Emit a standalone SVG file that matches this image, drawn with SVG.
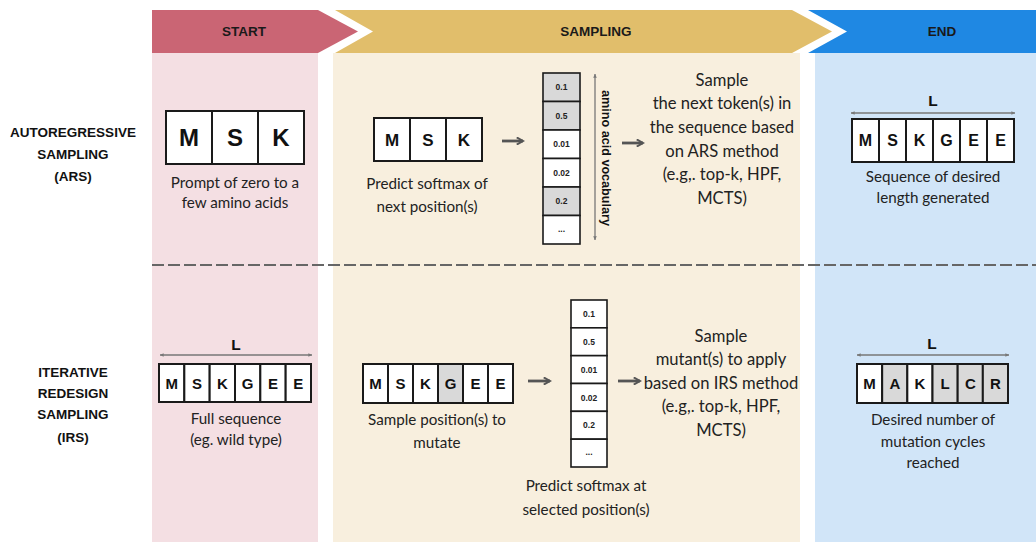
<svg xmlns="http://www.w3.org/2000/svg" width="1036" height="542" viewBox="0 0 1036 542">
  <style>
    .hdr { font-family: "Liberation Sans", Arial, sans-serif; font-weight: bold; font-size: 13.5px; fill: #1a1a1a; text-anchor: middle; }
    .row { font-family: "Liberation Sans", Arial, sans-serif; font-weight: bold; font-size: 13.5px; fill: #111; text-anchor: middle; }
    .cap { font-family: Lato, "Open Sans", sans-serif; font-size: 15.2px; fill: #222; text-anchor: middle; }
    .big { font-family: Lato, "Open Sans", sans-serif; font-size: 16.6px; fill: #222; text-anchor: middle; }
    .cell { fill: #fff; stroke: #1a1a1a; stroke-width: 2; }
    .cell.g { fill: #d9d9d9; }
    .vcell { fill: #fff; stroke: #1a1a1a; stroke-width: 1.6; }
    .vcell.g { fill: #d9d9d9; }
    .aa { font-family: "Liberation Sans", Arial, sans-serif; font-weight: bold; fill: #111; text-anchor: middle; }
    .num { font-family: "Liberation Sans", Arial, sans-serif; font-weight: bold; font-size: 8.5px; fill: #222; text-anchor: middle; }
    .flow { stroke: #555; stroke-width: 2.8; fill: none; marker-end: url(#head); }
    .span { stroke: #777; stroke-width: 1.3; fill: none; marker-start: url(#tip); marker-end: url(#tip); }
    .L { font-family: "Liberation Sans", Arial, sans-serif; font-weight: bold; font-size: 15.5px; fill: #111; text-anchor: middle; }
  </style>
  <defs>
    <marker id="head" viewBox="0 0 10 10" refX="8" refY="5" markerWidth="3.2" markerHeight="3.2" orient="auto">
      <path d="M1,1 L8,5 L1,9" fill="none" stroke="#555" stroke-width="2.2"/>
    </marker>
    <marker id="tip" viewBox="0 0 10 10" refX="9" refY="5" markerWidth="4" markerHeight="4" orient="auto-start-reverse">
      <path d="M2,1.5 L9,5 L2,8.5 Z" fill="#777"/>
    </marker>
  </defs>

  <!-- phase columns -->
  <g id="columns">
    <rect x="152" y="53" width="166" height="489" fill="#f4dfe3"/>
    <rect x="333" y="53" width="467" height="489" fill="#f8efde"/>
    <rect x="815" y="53" width="221" height="489" fill="#d1e5f8"/>
  </g>

  <!-- phase header chevrons -->
  <g id="header-start">
    <polygon points="152,10 318,10 358,31.5 318,53 152,53" fill="#ca6574"/>
    <text class="hdr" x="244" y="36">START</text>
  </g>
  <g id="header-sampling">
    <polygon points="335,10 792,10 832,31.5 792,53 335,53 373,31.5" fill="#e1be6b"/>
    <text class="hdr" x="596" y="36">SAMPLING</text>
  </g>
  <g id="header-end">
    <polygon points="808,10 1036,10 1036,53 808,53 847,31.5" fill="#1f88e3"/>
    <text class="hdr" x="942" y="36">END</text>
  </g>

  <!-- row divider -->
  <line x1="152" y1="265" x2="1036" y2="265" stroke="#666" stroke-width="2" stroke-dasharray="12 4"/>

  <!-- row labels -->
  <g id="label-ars">
    <text class="row" x="73" y="137">AUTOREGRESSIVE</text>
    <text class="row" x="73" y="159">SAMPLING</text>
    <text class="row" x="73" y="181">(ARS)</text>
  </g>
  <g id="label-irs">
    <text class="row" x="73" y="377">ITERATIVE</text>
    <text class="row" x="73" y="398">REDESIGN</text>
    <text class="row" x="73" y="419">SAMPLING</text>
    <text class="row" x="73" y="442">(IRS)</text>
  </g>

  <!-- ARS: prompt -->
  <g id="ars-prompt">
    <rect class="cell" x="166" y="111" width="46" height="53"/>
    <rect class="cell" x="212" y="111" width="46" height="53"/>
    <rect class="cell" x="258" y="111" width="46" height="53"/>
    <text class="aa" font-size="24" x="189" y="146">M</text>
    <text class="aa" font-size="24" x="235" y="146">S</text>
    <text class="aa" font-size="24" x="281" y="146">K</text>
    <text class="cap" x="235" y="188">Prompt of zero to a</text>
    <text class="cap" x="235" y="208">few amino acids</text>
  </g>

  <!-- ARS: model input -->
  <g id="ars-input">
    <rect class="cell" x="374" y="118" width="36" height="43"/>
    <rect class="cell" x="410" y="118" width="36" height="43"/>
    <rect class="cell" x="446" y="118" width="36" height="43"/>
    <text class="aa" font-size="17" x="392" y="146">M</text>
    <text class="aa" font-size="17" x="428" y="146">S</text>
    <text class="aa" font-size="17" x="464" y="146">K</text>
    <text class="cap" x="427" y="189">Predict softmax of</text>
    <text class="cap" x="427" y="212">next position(s)</text>
  </g>

  <!-- ARS: softmax over vocabulary -->
  <g id="ars-softmax">
    <rect class="vcell g" x="543" y="73" width="37" height="28.5"/>
    <rect class="vcell g" x="543" y="101.5" width="37" height="28.5"/>
    <rect class="vcell" x="543" y="130" width="37" height="28.5"/>
    <rect class="vcell" x="543" y="158.5" width="37" height="28.5"/>
    <rect class="vcell g" x="543" y="187" width="37" height="28.5"/>
    <rect class="vcell" x="543" y="215.5" width="37" height="28.5"/>
    <text class="num" x="561.5" y="90">0.1</text>
    <text class="num" x="561.5" y="118.5">0.5</text>
    <text class="num" x="561.5" y="147">0.01</text>
    <text class="num" x="561.5" y="175.5">0.02</text>
    <text class="num" x="561.5" y="204">0.2</text>
    <text class="num" x="561.5" y="232">...</text>
    <line class="span" x1="595" y1="74" x2="595" y2="240" stroke="#555"/>
    <text class="aa" font-size="12.6" transform="translate(602,158) rotate(90)" x="0" y="0">amino acid vocabulary</text>
  </g>

  <!-- ARS: sampling step -->
  <g id="ars-sample">
    <text class="big" x="722" y="86">Sample</text>
    <text class="big" x="722" y="109">the next token(s) in</text>
    <text class="big" x="722" y="133">the sequence based</text>
    <text class="big" x="722" y="157">on ARS method</text>
    <text class="big" x="722" y="180">(e.g,. top-k, HPF,</text>
    <text class="big" x="722" y="204">MCTS)</text>
  </g>

  <!-- ARS: generated sequence -->
  <g id="ars-result">
    <text class="L" x="933" y="106">L</text>
    <line class="span" x1="851" y1="113" x2="1015" y2="113"/>
    <rect class="cell" x="852" y="119" width="27" height="43"/>
    <rect class="cell" x="879" y="119" width="27" height="43"/>
    <rect class="cell" x="906" y="119" width="27" height="43"/>
    <rect class="cell" x="933" y="119" width="27" height="43"/>
    <rect class="cell" x="960" y="119" width="27" height="43"/>
    <rect class="cell" x="987" y="119" width="27" height="43"/>
    <text class="aa" font-size="16" x="865.5" y="146">M</text>
    <text class="aa" font-size="16" x="892.5" y="146">S</text>
    <text class="aa" font-size="16" x="919.5" y="146">K</text>
    <text class="aa" font-size="16" x="946.5" y="146">G</text>
    <text class="aa" font-size="16" x="973.5" y="146">E</text>
    <text class="aa" font-size="16" x="1000.5" y="146">E</text>
    <text class="cap" x="933" y="182">Sequence of desired</text>
    <text class="cap" x="933" y="203">length generated</text>
  </g>

  <!-- IRS: full sequence -->
  <g id="irs-sequence">
    <text class="L" x="236" y="350">L</text>
    <line class="span" x1="160" y1="355" x2="312" y2="355"/>
    <rect class="cell" x="159" y="364" width="25.33" height="38"/>
    <rect class="cell" x="184.33" y="364" width="25.33" height="38"/>
    <rect class="cell" x="209.67" y="364" width="25.33" height="38"/>
    <rect class="cell" x="235" y="364" width="25.33" height="38"/>
    <rect class="cell" x="260.33" y="364" width="25.33" height="38"/>
    <rect class="cell" x="285.67" y="364" width="25.33" height="38"/>
    <text class="aa" font-size="15" x="171.7" y="389">M</text>
    <text class="aa" font-size="15" x="197" y="389">S</text>
    <text class="aa" font-size="15" x="222.3" y="389">K</text>
    <text class="aa" font-size="15" x="247.7" y="389">G</text>
    <text class="aa" font-size="15" x="273" y="389">E</text>
    <text class="aa" font-size="15" x="298.3" y="389">E</text>
    <text class="cap" x="236" y="424">Full sequence</text>
    <text class="cap" x="236" y="445">(eg. wild type)</text>
  </g>

  <!-- IRS: position selection -->
  <g id="irs-position">
    <rect class="cell" x="363" y="364" width="25" height="39"/>
    <rect class="cell" x="388" y="364" width="25" height="39"/>
    <rect class="cell" x="413" y="364" width="25" height="39"/>
    <rect class="cell g" x="438" y="364" width="25" height="39"/>
    <rect class="cell" x="463" y="364" width="25" height="39"/>
    <rect class="cell" x="488" y="364" width="25" height="39"/>
    <text class="aa" font-size="15" x="375.5" y="389">M</text>
    <text class="aa" font-size="15" x="400.5" y="389">S</text>
    <text class="aa" font-size="15" x="425.5" y="389">K</text>
    <text class="aa" font-size="15" x="450.5" y="389">G</text>
    <text class="aa" font-size="15" x="475.5" y="389">E</text>
    <text class="aa" font-size="15" x="500.5" y="389">E</text>
    <text class="cap" x="437" y="425">Sample position(s) to</text>
    <text class="cap" x="437" y="448">mutate</text>
  </g>

  <!-- IRS: softmax at selected position -->
  <g id="irs-softmax">
    <rect class="vcell" x="571" y="300" width="36" height="27.83"/>
    <rect class="vcell" x="571" y="327.83" width="36" height="27.83"/>
    <rect class="vcell" x="571" y="355.67" width="36" height="27.83"/>
    <rect class="vcell" x="571" y="383.5" width="36" height="27.83"/>
    <rect class="vcell" x="571" y="411.33" width="36" height="27.83"/>
    <rect class="vcell" x="571" y="439.17" width="36" height="27.83"/>
    <text class="num" x="589" y="317">0.1</text>
    <text class="num" x="589" y="344.5">0.5</text>
    <text class="num" x="589" y="372.5">0.01</text>
    <text class="num" x="589" y="400.5">0.02</text>
    <text class="num" x="589" y="428">0.2</text>
    <text class="num" x="589" y="455">...</text>
    <text class="cap" x="586" y="491">Predict softmax at</text>
    <text class="cap" x="586" y="515">selected position(s)</text>
  </g>

  <!-- IRS: sampling step -->
  <g id="irs-sample">
    <text class="big" x="721" y="342">Sample</text>
    <text class="big" x="721" y="365">mutant(s) to apply</text>
    <text class="big" x="721" y="389">based on IRS method</text>
    <text class="big" x="721" y="412">(e.g,. top-k, HPF,</text>
    <text class="big" x="721" y="436">MCTS)</text>
  </g>

  <!-- IRS: mutated sequence -->
  <g id="irs-result">
    <text class="L" x="932" y="349">L</text>
    <line class="span" x1="857" y1="355" x2="1009" y2="355"/>
    <rect class="cell" x="857" y="364" width="25.17" height="39"/>
    <rect class="cell g" x="882.17" y="364" width="25.17" height="39"/>
    <rect class="cell" x="907.33" y="364" width="25.17" height="39"/>
    <rect class="cell g" x="932.5" y="364" width="25.17" height="39"/>
    <rect class="cell g" x="957.67" y="364" width="25.17" height="39"/>
    <rect class="cell g" x="982.83" y="364" width="25.17" height="39"/>
    <text class="aa" font-size="15" x="869.6" y="389">M</text>
    <text class="aa" font-size="15" x="894.8" y="389">A</text>
    <text class="aa" font-size="15" x="919.9" y="389">K</text>
    <text class="aa" font-size="15" x="945.1" y="389">L</text>
    <text class="aa" font-size="15" x="970.3" y="389">C</text>
    <text class="aa" font-size="15" x="995.4" y="389">R</text>
    <text class="cap" x="933" y="425">Desired number of</text>
    <text class="cap" x="933" y="447">mutation cycles</text>
    <text class="cap" x="933" y="468">reached</text>
  </g>

  <!-- step connectors -->
  <g id="connectors">
    <line class="flow" x1="502" y1="141" x2="523" y2="141"/>
    <line class="flow" x1="622" y1="143" x2="643" y2="143"/>
    <line class="flow" x1="528" y1="381" x2="550" y2="381"/>
    <line class="flow" x1="618" y1="381" x2="640" y2="381"/>
  </g>
</svg>
